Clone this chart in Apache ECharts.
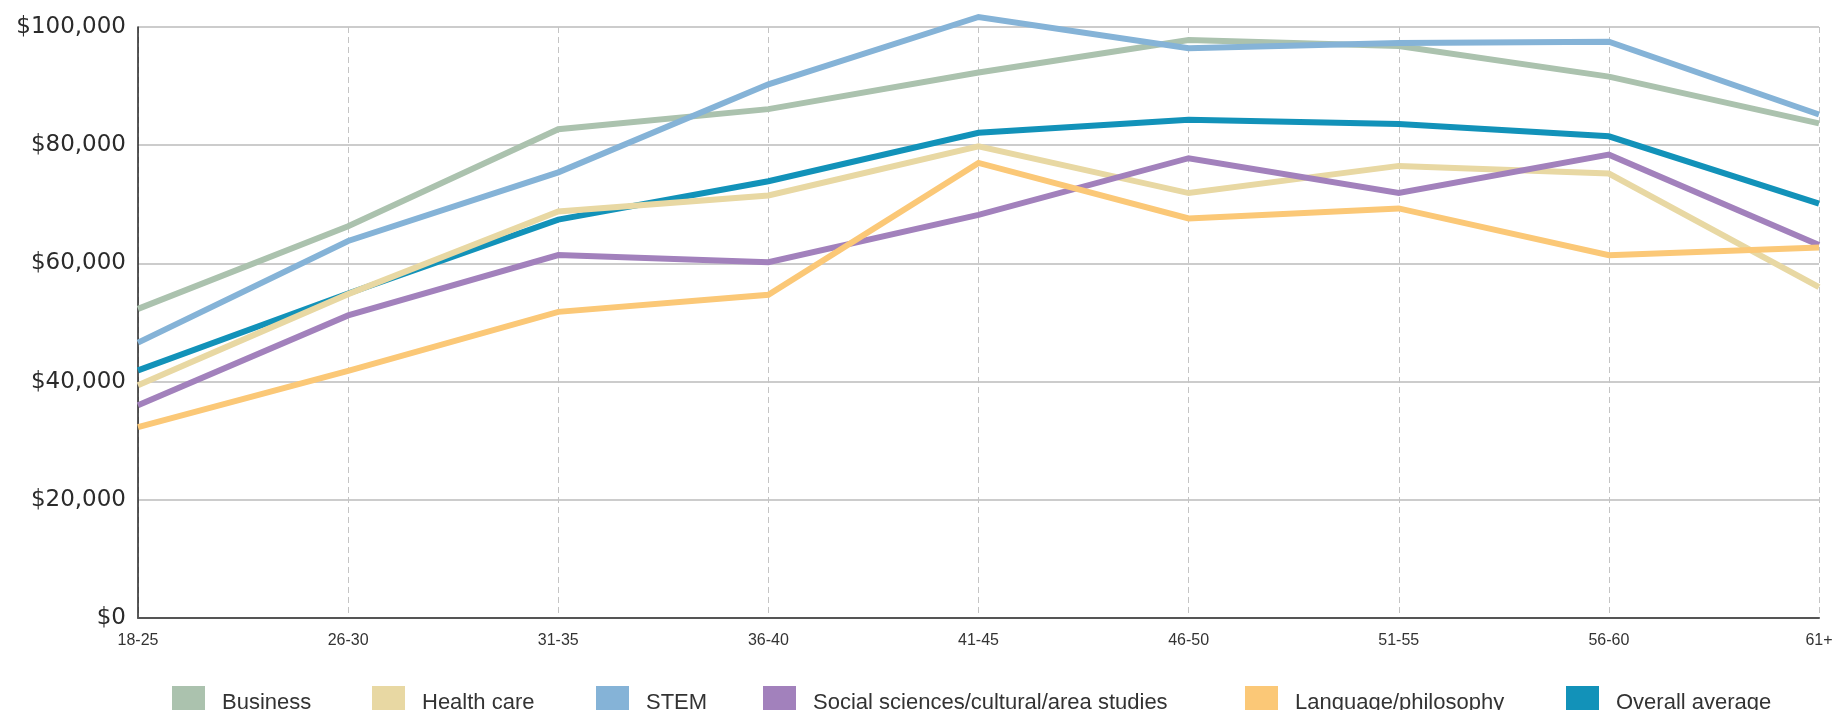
<!DOCTYPE html>
<html>
<head>
<meta charset="utf-8">
<title>Earnings by field of study and age</title>
<script src="https://cdn.jsdelivr.net/npm/echarts@6/dist/echarts.min.js"></script>
<style>
  html, body { margin: 0; padding: 0; background: #ffffff; }
  #chart { width: 1847px; height: 710px; }
</style>
</head>
<body>
<div id="chart"></div>
<script>
// Age groups along the horizontal axis
const ageGroups = ['18-25', '26-30', '31-35', '36-40', '41-45', '46-50', '51-55', '56-60', '61+'];

// Median earnings (USD) by field of study
const business      = [52300, 66300, 82700, 86100, 92300, 97800, 96800, 91600, 83700];
const healthCare    = [39400, 54800, 68800, 71500, 79800, 71900, 76500, 75200, 56000];
const stem          = [46600, 63800, 75400, 90300, 101700, 96400, 97300, 97500, 85200];
const socialScience = [36000, 51200, 61400, 60200, 68200, 77800, 71900, 78400, 63100];
const language      = [32300, 41800, 51800, 54700, 77000, 67600, 69300, 61400, 62700];
const overall       = [41900, 54900, 67400, 73900, 82100, 84300, 83600, 81500, 70100];

// Value axis tick labels
const yTickLabels = ['$0', '$20,000', '$40,000', '$60,000', '$80,000', '$100,000'];

// Legend entries, in reading order
const seriesNames = [
  'Business',
  'Health care',
  'STEM',
  'Social sciences/cultural/area studies',
  'Language/philosophy',
  'Overall average'
];

const colors = {
  'Business': '#abc2ae',
  'Health care': '#e8d8a3',
  'STEM': '#85b3d7',
  'Social sciences/cultural/area studies': '#a281bc',
  'Language/philosophy': '#fbc877',
  'Overall average': '#1292b9'
};

const valuesByName = {
  'Business': business,
  'Health care': healthCare,
  'STEM': stem,
  'Social sciences/cultural/area studies': socialScience,
  'Language/philosophy': language,
  'Overall average': overall
};

// Left edge of each legend swatch (px)
const legendLeft = [167, 367, 591, 758, 1240, 1561];

// Draw order (later series sit on top)
const drawOrder = [
  'Overall average',
  'Business',
  'STEM',
  'Health care',
  'Social sciences/cultural/area studies',
  'Language/philosophy'
];

const chart = echarts.init(document.getElementById('chart'), null, { renderer: 'canvas' });

chart.setOption({
  animation: false,
  backgroundColor: '#ffffff',
  grid: { left: 138, right: 28, top: 27, bottom: 92, containLabel: false },
  legend: seriesNames.map(function (name, i) {
    return {
      data: [name],
      left: legendLeft[i],
      top: 681,
      itemWidth: 33,
      itemHeight: 33,
      icon: 'rect',
      selectedMode: false,
      textStyle: {
        fontFamily: '"Liberation Sans", Arial, sans-serif',
        fontSize: 22,
        color: '#333333',
        padding: [0, 0, 0, 12]
      }
    };
  }),
  xAxis: {
    type: 'category',
    data: ageGroups,
    boundaryGap: false,
    axisLine: { show: true, lineStyle: { color: '#555555', width: 2 } },
    axisTick: { show: false },
    axisLabel: {
      margin: 15,
      fontFamily: '"Liberation Sans", Arial, sans-serif',
      fontSize: 16,
      color: '#333333',
      interval: 0
    },
    splitLine: {
      show: true,
      lineStyle: { color: '#c4c4c4', width: 1, type: [6, 4] }
    }
  },
  yAxis: {
    type: 'value',
    min: 0,
    max: 100000,
    interval: 20000,
    axisLine: { show: true, lineStyle: { color: '#222222', width: 1.5 } },
    axisTick: { show: false },
    axisLabel: {
      margin: 12,
      fontFamily: '"DejaVu Sans", Verdana, sans-serif',
      fontSize: 23,
      color: '#2b2b2b',
      formatter: function (v) { return yTickLabels[Math.round(v / 20000)]; }
    },
    splitLine: {
      show: true,
      lineStyle: { color: '#cccccc', width: 2, type: 'solid' }
    }
  },
  series: drawOrder.map(function (name) {
    return {
      name: name,
      type: 'line',
      data: valuesByName[name],
      symbol: 'none',
      clip: false,
      color: colors[name],
      lineStyle: { width: 6, color: colors[name], join: 'miter' },
      emphasis: { disabled: true }
    };
  })
});
</script>
</body>
</html>
